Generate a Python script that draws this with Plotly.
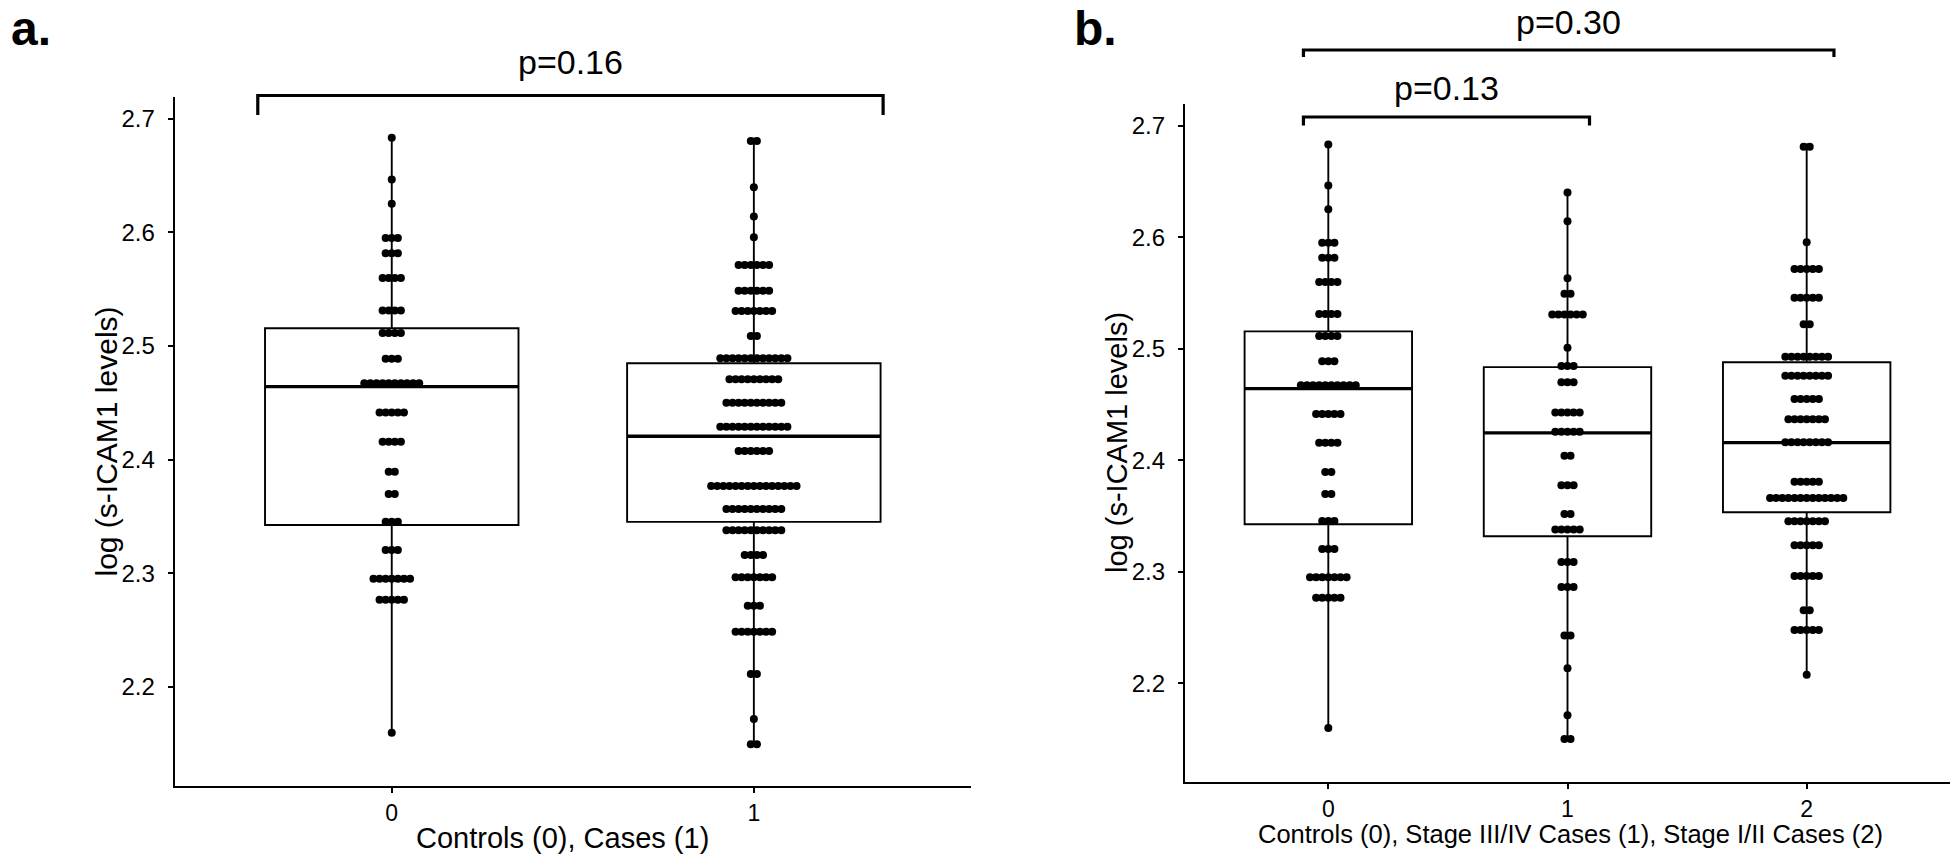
import plotly.graph_objects as go

W, H = 1956, 858

# ---------------- data ----------------
# dot-plot bins: value level of each row of dots and number of dots in that row
ctrl_levels = [2.6831, 2.6464, 2.6251, 2.5950, 2.5815, 2.5598, 2.5311, 2.5113, 2.4888, 2.4672,
               2.4414, 2.4157, 2.3894, 2.3697, 2.3454, 2.3204, 2.2951, 2.2767, 2.1598]
ctrl_counts = [1, 1, 1, 3, 3, 4, 4, 4, 3, 10, 5, 4, 2, 2, 3, 3, 7, 5, 1]

cases_levels = [2.6802, 2.6395, 2.6137, 2.5955, 2.5712, 2.5486, 2.5307, 2.5087, 2.4891, 2.4706,
                2.4501, 2.4289, 2.4076, 2.3768, 2.3566, 2.3378, 2.3161, 2.2965, 2.2715, 2.2486,
                2.2114, 2.1719, 2.1496]
cases_counts = [2, 1, 1, 1, 6, 6, 7, 2, 12, 9, 10, 12, 6, 15, 10, 10, 4, 7, 3, 7, 2, 1, 2]

stage34_levels = [2.6402, 2.6144, 2.5632, 2.5492, 2.5307, 2.5008, 2.4845, 2.4699, 2.4428, 2.4256,
                  2.4040, 2.3776, 2.3518, 2.3378, 2.3086, 2.2863, 2.2427, 2.2135, 2.1713, 2.1500]
stage34_counts = [1, 1, 1, 2, 6, 1, 3, 3, 5, 5, 2, 3, 2, 5, 3, 3, 2, 1, 1, 2]

stage12_levels = [2.6812, 2.5954, 2.5715, 2.5457, 2.5219, 2.4928, 2.4758, 2.4549, 2.4367, 2.4161,
                  2.3807, 2.3661, 2.3452, 2.3237, 2.2962, 2.2654, 2.2477, 2.2076]
stage12_counts = [2, 1, 5, 5, 2, 8, 8, 5, 7, 8, 5, 13, 7, 5, 5, 2, 5, 1]

# box statistics: [q1, median, q3, min, max]
ctrl_box = [2.3425, 2.4642, 2.5155, 2.1598, 2.6831]
cases_box = [2.3452, 2.4206, 2.4847, 2.1496, 2.6830]
stage34_box = [2.3318, 2.4245, 2.4835, 2.1500, 2.6402]
stage12_box = [2.3533, 2.4158, 2.4878, 2.2076, 2.6840]

cats_a = [0, 1]
cats_b = [0, 1, 2]
xlabels_a = ["0", "1"]
xlabels_b = ["0", "1", "2"]
yticks = [2.2, 2.3, 2.4, 2.5, 2.6, 2.7]
ylabels = ["2.2", "2.3", "2.4", "2.5", "2.6", "2.7"]

pval_a = "p=0.16"
pval_b_long = "p=0.30"
pval_b_short = "p=0.13"

xtitle_a = "Controls (0), Cases (1)"
xtitle_b = "Controls (0), Stage III/IV Cases (1), Stage I/II Cases (2)"
ytitle = "log (s-ICAM1 levels)"

# ---------------- layout geometry ----------------
xa_dom = [174.5 / W, 971.1 / W]
ya_dom = [1 - 786 / H, 1 - 97 / H]
xb_dom = [1184.8 / W, 1950.2 / W]
yb_dom = [1 - 782 / H, 1 - 104 / H]
xa_rng = [-0.6, 1.6]
xb_rng = [-0.6, 2.6]
ya_rng = [2.11293, 2.71891]
yb_rng = [2.11139, 2.71946]

BOXW = 0.70
DOT_PX = 6.1
DOT_SIZE = 8
FONT = "Liberation Sans, Arial, sans-serif"


def px_step(dom, rng):
    return DOT_PX * (rng[1] - rng[0]) / ((dom[1] - dom[0]) * W)


step_a = px_step(xa_dom, xa_rng)
step_b = px_step(xb_dom, xb_rng)


def dots(center, levels, counts, step):
    xs, ys = [], []
    for v, n in zip(levels, counts):
        for i in range(n):
            xs.append(center + (i - (n - 1) / 2) * step)
            ys.append(v)
    return xs, ys


fig = go.Figure()


def add_group(center, box, xr, yr):
    q1, med, q3, lo, hi = box
    fig.add_trace(go.Box(
        x=[center], q1=[q1], median=[med], q3=[q3], lowerfence=[lo], upperfence=[hi],
        width=BOXW, whiskerwidth=0, fillcolor="white",
        line=dict(color="black", width=1.9), boxpoints=False,
        xaxis=xr, yaxis=yr, showlegend=False, hoverinfo="skip"))


def add_median(center, box, xr, yr):
    med = box[1]
    fig.add_trace(go.Scatter(
        x=[center - BOXW / 2, center + BOXW / 2], y=[med, med], mode="lines",
        line=dict(color="black", width=3.4), xaxis=xr, yaxis=yr,
        showlegend=False, hoverinfo="skip"))


def add_dots(center, levels, counts, step, xr, yr):
    xs, ys = dots(center, levels, counts, step)
    fig.add_trace(go.Scatter(
        x=xs, y=ys, mode="markers",
        marker=dict(color="black", size=DOT_SIZE, line=dict(width=0)),
        xaxis=xr, yaxis=yr, showlegend=False, hoverinfo="skip", cliponaxis=False))


groups_a = [(cats_a[0], ctrl_box, ctrl_levels, ctrl_counts),
            (cats_a[1], cases_box, cases_levels, cases_counts)]
groups_b = [(cats_b[0], ctrl_box, ctrl_levels, ctrl_counts),
            (cats_b[1], stage34_box, stage34_levels, stage34_counts),
            (cats_b[2], stage12_box, stage12_levels, stage12_counts)]

for c, b, lv, ct in groups_a:
    add_group(c, b, "x", "y")
for c, b, lv, ct in groups_b:
    add_group(c, b, "x2", "y2")
for c, b, lv, ct in groups_a:
    add_median(c, b, "x", "y")
for c, b, lv, ct in groups_b:
    add_median(c, b, "x2", "y2")
for c, b, lv, ct in groups_a:
    add_dots(c, lv, ct, step_a, "x", "y")
for c, b, lv, ct in groups_b:
    add_dots(c, lv, ct, step_b, "x2", "y2")

axis_common = dict(showgrid=False, zeroline=False, showline=True, linecolor="black",
                   linewidth=1.8, ticks="outside", ticklen=5, tickwidth=1.8,
                   tickcolor="black")
yfont = dict(family=FONT, size=24, color="black")
xfont = dict(family=FONT, size=23, color="black")

fig.update_layout(
    width=W, height=H, margin=dict(l=0, r=0, t=0, b=0),
    paper_bgcolor="white", plot_bgcolor="white", showlegend=False,
    xaxis=dict(domain=xa_dom, range=xa_rng, anchor="y", tickvals=cats_a, ticktext=xlabels_a,
               ticklabelstandoff=0, tickfont=xfont, **axis_common),
    yaxis=dict(domain=ya_dom, range=ya_rng, anchor="x", tickvals=yticks, ticktext=ylabels,
               ticklabelstandoff=8, tickfont=yfont, **axis_common),
    xaxis2=dict(domain=xb_dom, range=xb_rng, anchor="y2", tickvals=cats_b, ticktext=xlabels_b,
                ticklabelstandoff=0, tickfont=xfont, **axis_common),
    yaxis2=dict(domain=yb_dom, range=yb_rng, anchor="x2", tickvals=yticks, ticktext=ylabels,
                ticklabelstandoff=8, tickfont=yfont, **axis_common),
)


def py(px):
    return 1 - px / H


# significance brackets: (xref, x0, x1, horizontal y px, tick end y px, label, label centre y px)
brackets = [("x", -0.370, 1.357, 95.5, 115.0, pval_a, 62.0),
            ("x2", -0.104, 2.114, 50.0, 57.0, pval_b_long, 22.0),
            ("x2", -0.104, 1.092, 117.0, 125.5, pval_b_short, 88.0)]
for xr, x0, x1, yh, yt, label, ytxt in brackets:
    fig.add_shape(type="path", xref=xr, yref="paper",
                  path=f"M {x0},{py(yt)} L {x0},{py(yh)} L {x1},{py(yh)} L {x1},{py(yt)}",
                  line=dict(color="black", width=3.2))
    fig.add_annotation(text=label, xref=xr, yref="paper", x=(x0 + x1) / 2, y=py(ytxt),
                       xanchor="center", yanchor="middle", showarrow=False,
                       font=dict(family=FONT, size=34, color="black"))

# axis titles
fig.add_annotation(text=xtitle_a, xref="paper", yref="paper", x=562 / W, y=py(838),
                   xanchor="center", yanchor="middle", showarrow=False, borderpad=0,
                   font=dict(family=FONT, size=29, color="black"))
fig.add_annotation(text=xtitle_b, xref="paper", yref="paper", x=1570 / W, y=py(834),
                   xanchor="center", yanchor="middle", showarrow=False, borderpad=0,
                   font=dict(family=FONT, size=25.5, color="black"))
fig.add_annotation(text=ytitle, xref="paper", yref="paper", x=106 / W, y=sum(ya_dom) / 2,
                   xanchor="center", yanchor="middle", showarrow=False, textangle=-90,
                   font=dict(family=FONT, size=30, color="black"))
fig.add_annotation(text=ytitle, xref="paper", yref="paper", x=1117 / W, y=sum(yb_dom) / 2,
                   xanchor="center", yanchor="middle", showarrow=False, textangle=-90,
                   font=dict(family=FONT, size=29, color="black"))

# panel letters
for letter, xc in (("a.", 31), ("b.", 1095)):
    fig.add_annotation(text=f"<b>{letter}</b>", xref="paper", yref="paper", x=xc / W, y=py(56),
                       xanchor="center", yanchor="bottom", showarrow=False, borderpad=0,
                       font=dict(family=FONT, size=48, color="black"))

fig.write_html(
    "out.html",
    config={"displayModeBar": False},
    post_script="document.body.style.margin='0';document.body.style.padding='0';"
                "document.body.style.overflow='hidden';",
)
